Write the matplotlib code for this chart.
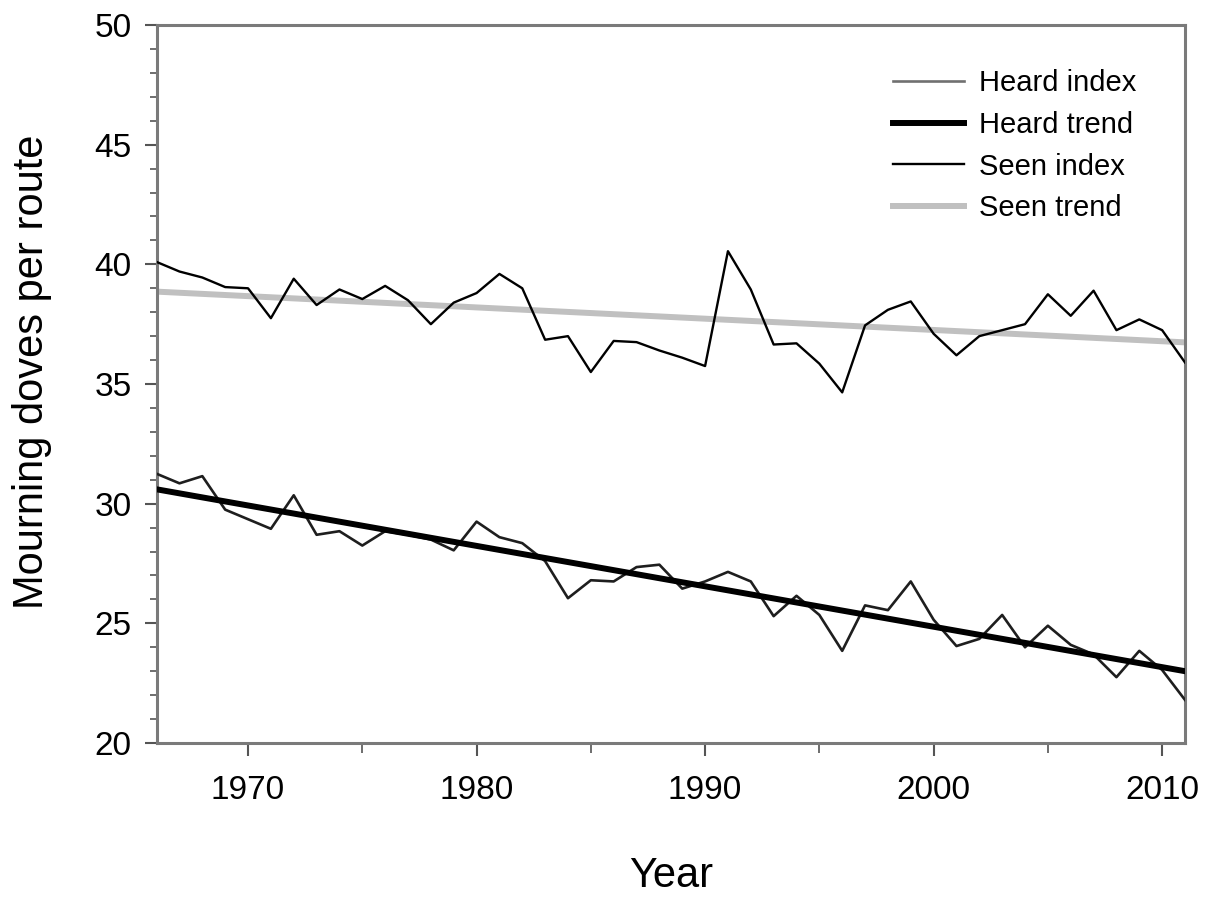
import numpy as np
import matplotlib
matplotlib.use('agg')
import matplotlib.pyplot as plt
from matplotlib.ticker import MultipleLocator

plt.rcParams['font.family'] = ['Liberation Sans', 'DejaVu Sans']

# data
years = np.arange(1966, 2012)

seen_index = [40.1, 39.7, 39.45, 39.05, 39.0, 37.75, 39.4, 38.3, 38.95, 38.55,
              39.1, 38.5, 37.5, 38.4, 38.8, 39.6, 39.0, 36.85, 37.0, 35.5,
              36.8, 36.75, 36.4, 36.1, 35.75, 40.55, 38.95, 36.65, 36.7, 35.85,
              34.65, 37.45, 38.1, 38.45, 37.1, 36.2, 37.0, 37.25, 37.5, 38.75,
              37.85, 38.9, 37.25, 37.7, 37.25, 35.9]

heard_index = [31.25, 30.85, 31.15, 29.75, 29.35, 28.95, 30.35, 28.7, 28.85, 28.25,
               28.85, 28.7, 28.5, 28.05, 29.25, 28.6, 28.35, 27.6, 26.05, 26.8,
               26.75, 27.35, 27.45, 26.45, 26.75, 27.15, 26.75, 25.3, 26.15, 25.35,
               23.85, 25.75, 25.55, 26.75, 25.15, 24.05, 24.35, 25.35, 24.0, 24.9,
               24.1, 23.7, 22.75, 23.85, 23.05, 21.8]

trend_years = [1966, 2011]
seen_trend = [38.86, 36.74]
heard_trend = [30.6, 23.0]


def main():
    fig = plt.figure(figsize=(12.17, 8.97), dpi=100)
    ax = fig.add_axes([0.1287, 0.1717, 0.845, 0.8004])

    ax.plot(years, heard_index, color='#1e1e1e', lw=1.9, label='Heard index', zorder=3)
    ax.plot(trend_years, heard_trend, color='black', lw=4.3, label='Heard trend', zorder=4)
    ax.plot(years, seen_index, color='black', lw=1.7, label='Seen index', zorder=3)
    ax.plot(trend_years, seen_trend, color='#c0c0c0', lw=4.3, label='Seen trend', zorder=2)

    # axes
    ax.set_xlim(1966, 2011)
    ax.set_ylim(20, 50)
    ax.xaxis.set_major_locator(MultipleLocator(10))
    ax.xaxis.set_minor_locator(MultipleLocator(5))
    ax.yaxis.set_major_locator(MultipleLocator(5))
    ax.yaxis.set_minor_locator(MultipleLocator(1))
    ax.tick_params(axis='both', which='major', direction='out', length=9, width=1.5,
                   color='#555555', labelsize=24, pad=9)
    ax.tick_params(axis='both', which='minor', direction='out', length=5, width=1.2,
                   color='#555555')
    ax.tick_params(axis='x', which='major', pad=14)
    ax.tick_params(axis='x', which='minor', length=7)
    for sp in ax.spines.values():
        sp.set_color('#7a7a7a')
        sp.set_linewidth(2.2)

    ax.set_xlabel('Year', fontsize=30, labelpad=36)
    ax.set_ylabel('Mourning doves per route', fontsize=30)
    ax.yaxis.set_label_coords(-0.102, 0.517)

    leg = ax.legend(loc='upper right', bbox_to_anchor=(0.978, 0.975), frameon=False,
                    fontsize=21, handlelength=2.45, handletextpad=0.5, labelspacing=0.47)
    leg.get_lines()[0].set_color('#707070')

    fig.savefig('out.png', dpi=100)


if __name__ == "__main__":
    main()
